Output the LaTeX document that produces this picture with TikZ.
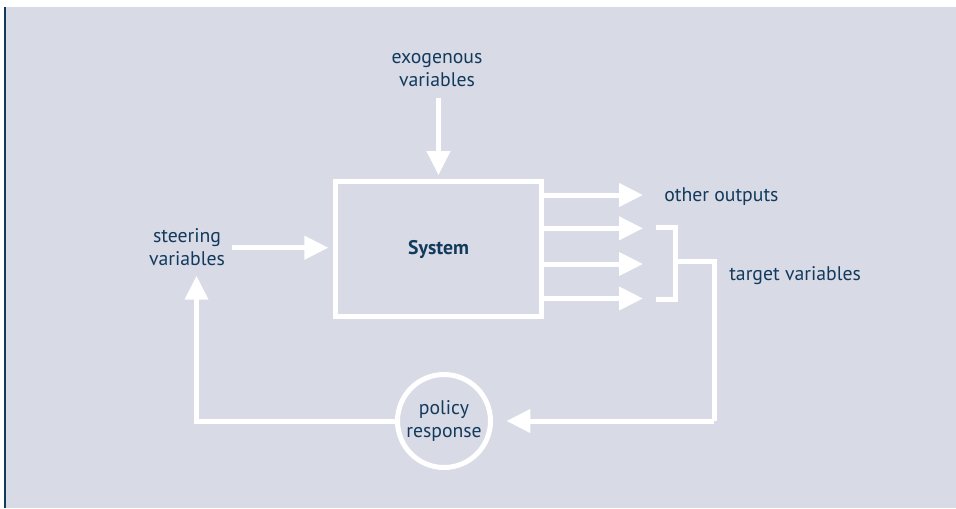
\documentclass[tikz,border=0pt]{standalone}
\usepackage{fontspec}
\setmainfont{PT Sans}
\usetikzlibrary{arrows.meta}
\definecolor{bg}{HTML}{D8DAE6}
\definecolor{navy}{HTML}{123A5C}
\begin{document}
\begin{tikzpicture}[x=0.75pt,y=-0.75pt,
  wl/.style={draw=white,line width=3.75pt},
  arr/.style={wl,-{Triangle[length=18pt,width=17pt]}},
  lbl/.style={text=navy,font=\fontsize{14.8}{17.5}\selectfont,align=center,inner sep=0pt},
]
\useasboundingbox (0,0) rectangle (956,508);
\fill[bg] (4,7) rectangle (956,508);
\fill[navy] (4,7) rectangle (6,508);

\node[wl,minimum width=154.3pt,minimum height=101.1pt,inner sep=0pt,
      text=navy,font=\fontsize{14.8}{17.5}\selectfont\bfseries] (sys) at (438.6,249.1) {System};

\node[lbl] (exo) at (437,70) {exogenous\\variables};
\node[lbl] (steer) at (187,247) {steering\\variables};
\node[lbl,anchor=base west] (oth) at (664,201.5) {other outputs};
\node[lbl,anchor=base west] (tgt) at (729,280) {target variables};
\node[wl,circle,minimum size=69.75pt,inner sep=0pt,text=navy,align=center,
      font=\fontsize{14.8}{17}\selectfont] (pol) at (444,421) {policy\\response};

\coordinate (exs) at (438.5,98);
\coordinate (t1) at (643,228.3);
\coordinate (t2) at (643,264);
\coordinate (t3) at (643,298.5);
\coordinate (o0) at (643,195);
\coordinate (sa) at (232,247.7);
\coordinate (sv) at (196.5,275.7);
\coordinate (bt) at (656,227.5);
\coordinate (bb) at (656,299.5);
\coordinate (bm) at (675,261);
\coordinate (fr) at (714,421);

\draw[arr,shorten >=3pt] (exs) -- (exs |- sys.north);
\draw[arr,shorten >=3.6pt] (sa) -- (sa -| sys.west);
\draw[arr] (sys.east |- o0) -- (o0);
\draw[arr] (sys.east |- t1) -- (t1);
\draw[arr] (sys.east |- t2) -- (t2);
\draw[arr] (sys.east |- t3) -- (t3);
\draw[wl] (bt) -- (bt -| bm) -- (bb -| bm) -- (bb);
\draw[wl] (bm) -- (bm -| fr) -- (fr);
\draw[arr,shorten >=10pt] (fr) -- (pol.east);
\draw[arr] (pol.west) -| (sv);
\end{tikzpicture}
\end{document}
